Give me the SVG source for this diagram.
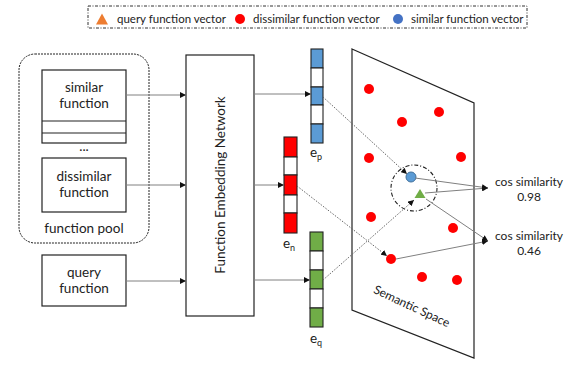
<svg xmlns="http://www.w3.org/2000/svg" width="579" height="367" viewBox="0 0 579 367">
<style>
text{font-family:Lato,"Liberation Sans",sans-serif;fill:#222}
.n{font-size:13.5px;text-anchor:middle}
.lg{font-size:11.5px}
.box{fill:#fff;stroke:#222;stroke-width:1.2}
.c{stroke:#222;stroke-width:1.1}
.b{fill:#5b9bd5}.r{fill:#ff0000}.g{fill:#70ad47}.w{fill:#fff}
.con{stroke:#808080;stroke-width:1;fill:none}
.dot{stroke:#666;stroke-width:1;stroke-dasharray:1.5 1.5;fill:none}
.rd{fill:#ff0000}
</style>
<defs>
<marker id="ah" viewBox="0 0 10 10" refX="10" refY="5" markerWidth="6" markerHeight="6" markerUnits="userSpaceOnUse" orient="auto">
<path d="M0,0L10,5L0,10z" fill="#111"/>
</marker>
</defs>
<g id="legend">
<rect x="88" y="6" width="439" height="22" fill="none" stroke="#333" stroke-width="1" stroke-dasharray="3 1.5 1 1.5"/>
<polygon points="102,13.5 108,24.5 96,24.5" fill="#ed7d31"/>
<text class="lg" x="117" y="23">query function vector</text>
<circle cx="240" cy="19" r="5" fill="#ff0000"/>
<text class="lg" x="253" y="23">dissimilar function vector</text>
<circle cx="398" cy="19" r="5" fill="#4472c4"/>
<text class="lg" x="411" y="23">similar function vector</text>
</g>
<g id="function-pool">
<rect x="19" y="54" width="130" height="189" rx="16" fill="none" stroke="#222" stroke-width="1" stroke-dasharray="2 1"/>
<text class="n" x="84" y="233">function pool</text>
<text class="n" x="84" y="151">...</text>
</g>
<g id="similar-function">
<rect class="box" x="42" y="70" width="84" height="73"/>
<line class="c" x1="42" y1="121" x2="126" y2="121"/>
<line class="c" x1="42" y1="133" x2="126" y2="133"/>
<text class="n" x="84" y="92">similar</text>
<text class="n" x="84" y="108">function</text>
</g>
<g id="dissimilar-function">
<rect class="box" x="42" y="158" width="84" height="54"/>
<text class="n" x="84" y="181">dissimilar</text>
<text class="n" x="84" y="197">function</text>
</g>
<g id="query-function">
<rect class="box" x="42" y="255" width="84" height="51"/>
<text class="n" x="84" y="277">query</text>
<text class="n" x="84" y="293">function</text>
</g>
<g id="fen">
<rect class="box" x="186" y="55" width="68" height="261"/>
<text class="n" transform="translate(224.5,185) rotate(-90)">Function Embedding Network</text>
</g>
<g id="ep">
<rect class="c b" x="311" y="49" width="12" height="19"/>
<rect class="c w" x="311" y="68" width="12" height="19"/>
<rect class="c b" x="311" y="87" width="12" height="18"/>
<rect class="c w" x="311" y="105" width="12" height="19"/>
<rect class="c b" x="311" y="124" width="12" height="19"/>
<text class="n" x="316" y="157">e<tspan font-size="9" dy="3">p</tspan></text>
</g>
<g id="en">
<rect class="c r" x="284" y="137" width="13" height="20"/>
<rect class="c w" x="284" y="157" width="13" height="18"/>
<rect class="c r" x="284" y="175" width="13" height="20"/>
<rect class="c w" x="284" y="195" width="13" height="18"/>
<rect class="c r" x="284" y="213" width="13" height="20"/>
<text class="n" x="289" y="248">e<tspan font-size="9" dy="3">n</tspan></text>
</g>
<g id="eq">
<rect class="c g" x="310" y="232" width="13" height="19"/>
<rect class="c w" x="310" y="251" width="13" height="19"/>
<rect class="c g" x="310" y="270" width="13" height="19"/>
<rect class="c w" x="310" y="289" width="13" height="19"/>
<rect class="c g" x="310" y="308" width="13" height="19"/>
<text class="n" x="316" y="343">e<tspan font-size="9" dy="3">q</tspan></text>
</g>
<g id="semantic-space">
<polygon points="352,49 474,103 474,358 352,310" fill="#fff" stroke="#222" stroke-width="1.2"/>
<text font-size="12" text-anchor="middle" transform="translate(410,310) rotate(25)">Semantic Space</text>
<circle class="rd" cx="369" cy="89" r="5"/>
<circle class="rd" cx="402" cy="122" r="5"/>
<circle class="rd" cx="439" cy="112" r="5"/>
<circle class="rd" cx="369" cy="158" r="5"/>
<circle class="rd" cx="461" cy="157" r="5"/>
<circle class="rd" cx="371" cy="217" r="5"/>
<circle class="rd" cx="453" cy="228" r="5"/>
<circle class="rd" cx="391" cy="259" r="5"/>
<circle class="rd" cx="422" cy="277" r="5"/>
<circle class="rd" cx="457" cy="280" r="5"/>
<circle cx="414" cy="188" r="23" fill="none" stroke="#222" stroke-width="1.1" stroke-dasharray="4 2 1 2"/>
<circle cx="411" cy="177" r="5" fill="#5b9bd5" stroke="#41719c" stroke-width="1"/>
<polygon points="420,189 425.5,198 414.5,198" fill="#70ad47"/>
</g>
<g id="labels">
<text font-size="12" text-anchor="middle" x="529" y="186">cos similarity</text>
<text font-size="12" text-anchor="middle" x="529" y="201">0.98</text>
<text font-size="12" text-anchor="middle" x="529" y="240">cos similarity</text>
<text font-size="12" text-anchor="middle" x="529" y="255">0.46</text>
</g>
<g id="connectors">
<line class="con" x1="126" y1="95" x2="186" y2="95" marker-end="url(#ah)"/>
<line class="con" x1="126" y1="185" x2="186" y2="185" marker-end="url(#ah)"/>
<line class="con" x1="126" y1="281" x2="186" y2="281" marker-end="url(#ah)"/>
<line class="con" x1="254" y1="94" x2="311" y2="94" marker-end="url(#ah)"/>
<line class="con" x1="254" y1="185" x2="284" y2="185" marker-end="url(#ah)"/>
<line class="con" x1="254" y1="280" x2="310" y2="280" marker-end="url(#ah)"/>
<line class="dot" x1="323" y1="97" x2="407" y2="174" marker-end="url(#ah)"/>
<line class="dot" x1="297" y1="186" x2="387" y2="256" marker-end="url(#ah)"/>
<line class="dot" x1="323" y1="280" x2="414" y2="200" marker-end="url(#ah)"/>
<line class="con" x1="415" y1="178" x2="488" y2="188" marker-end="url(#ah)"/>
<line class="con" x1="425" y1="193" x2="488" y2="188" marker-end="url(#ah)"/>
<line class="con" x1="426" y1="199" x2="488" y2="241" marker-end="url(#ah)"/>
<line class="con" x1="396" y1="259" x2="488" y2="241" marker-end="url(#ah)"/>
</g>
</svg>
